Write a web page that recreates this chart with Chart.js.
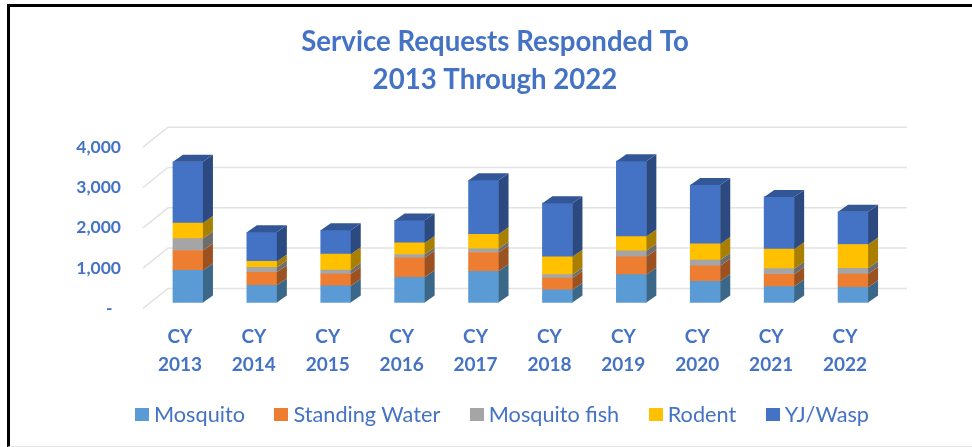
<!DOCTYPE html>
<html lang="en">
<head>
  <meta charset="UTF-8" />
  <title>Service Requests Responded To</title>
  <script src="https://cdn.jsdelivr.net/npm/chart.js"></script>
  <style>
    html, body {
      margin: 0;
      padding: 0;
      background: white;
      overflow: hidden;
    }

    .page {
      position: relative;
      width: 972px;
      height: 447px;
      font-family: Lato, sans-serif;
    }

    .frame {
      position: absolute;
      left: 7px;
      top: 4px;
      right: 0;
      bottom: 0;
      border-left: 3px solid black;
      border-top: 3px solid black;
      border-bottom: 1px solid #e6e6e6;
    }

    canvas {
      position: absolute;
      left: 0;
      top: 0;
    }

    .legend {
      position: absolute;
      left: 135px;
      top: 400px;
      display: flex;
      color: #4472c4;
      font-size: 21.7px;
      line-height: 28px;
    }

    .legend span {
      display: flex;
      align-items: center;
      margin-right: 29.5px;
      white-space: nowrap;
    }

    .legend i {
      width: 14px;
      height: 13px;
      margin-right: 5px;
    }
  </style>
</head>
<body>

<div class="page">
  <div class="frame"></div>
  <canvas id="chart" width="972" height="447"></canvas>
  <div class="legend" id="legend"></div>
</div>

<script>
  const categories = ["2013", "2014", "2015", "2016", "2017", "2018", "2019", "2020", "2021", "2022"];
  const seriesNames = ["Mosquito", "Standing Water", "Mosquito fish", "Rodent", "YJ/Wasp"];
  const mosquito = [796, 427, 410, 624, 772, 312, 690, 525, 394, 378];
  const standingWater = [493, 320, 296, 484, 468, 296, 443, 386, 304, 328];
  const mosquitoFish = [296, 123, 98, 82, 90, 82, 148, 140, 140, 140];
  const rodent = [386, 148, 394, 287, 361, 443, 353, 402, 484, 591];
  const yjWasp = [1519, 722, 591, 558, 1338, 1330, 1872, 1461, 1297, 813];
  const yTicks = [0, 1000, 2000, 3000, 4000];

  const blue = "#4472c4";
  const colors = ["#5b9bd5", "#ed7d31", "#a5a5a5", "#ffc000", "#4472c4"];
  const sideColors = ["#3b6789", "#9c5220", "#6d6d6d", "#a87f00", "#2c4a80"];
  const topColor = "#335696";
  const values = [mosquito, standingWater, mosquitoFish, rodent, yjWasp];

  // the floor sits a few pixels in front of the bars, as in a 3D excel chart
  const floorValue = 148;
  const barDepth = { x: 10, y: 7 };
  const wallDepth = { x: 25, y: 20 };

  // title is centred on the plot + right margin, not on the whole canvas
  const titleShift = {
    id: 'titleShift',
    afterLayout(chart) {
      chart.titleBlock.left += 100;
    }
  };

  const wallGrid = {
    id: 'wallGrid',
    beforeDatasetsDraw(chart) {
      const { ctx, chartArea } = chart;
      const scale = chart.scales.yLabels;
      const x0 = chartArea.left - 8;
      ctx.save();
      ctx.strokeStyle = "#e2e2e2";
      ctx.lineWidth = 1.5;
      yTicks.forEach(v => {
        const y = scale.getPixelForValue(v);
        ctx.beginPath();
        ctx.moveTo(x0, y);
        ctx.lineTo(x0 + wallDepth.x, y - wallDepth.y);
        ctx.lineTo(chartArea.right + 17, y - wallDepth.y);
        ctx.stroke();
      });
      ctx.restore();
    }
  };

  // side and top faces of each stacked box
  const barSides = {
    id: 'barSides',
    afterDatasetsDraw(chart) {
      const { ctx } = chart;
      ctx.save();
      chart.data.datasets.forEach((ds, i) => {
        chart.getDatasetMeta(i).data.forEach(bar => {
          const right = bar.x + bar.width / 2;
          const left = bar.x - bar.width / 2;
          ctx.fillStyle = sideColors[i];
          ctx.beginPath();
          ctx.moveTo(right, bar.y);
          ctx.lineTo(right + barDepth.x, bar.y - barDepth.y);
          ctx.lineTo(right + barDepth.x, bar.base - barDepth.y);
          ctx.lineTo(right, bar.base);
          ctx.closePath();
          ctx.fill();
          if (i === chart.data.datasets.length - 1) {
            ctx.fillStyle = topColor;
            ctx.beginPath();
            ctx.moveTo(left, bar.y);
            ctx.lineTo(left + barDepth.x, bar.y - barDepth.y);
            ctx.lineTo(right + barDepth.x, bar.y - barDepth.y);
            ctx.lineTo(right, bar.y);
            ctx.closePath();
            ctx.fill();
          }
        });
      });
      ctx.restore();
    }
  };

  new Chart(document.getElementById('chart'), {
    type: 'bar',
    data: {
      labels: categories.map(c => ["CY", c]),
      datasets: seriesNames.map((name, i) => ({
        label: name,
        data: values[i],
        backgroundColor: colors[i],
        yAxisID: 'y',
        barThickness: 30
      }))
    },
    options: {
      responsive: false,
      animation: false,
      layout: { padding: { left: 0, right: 82, top: 12, bottom: 61.3 } },
      plugins: {
        legend: { display: false },
        tooltip: { enabled: false },
        title: {
          display: true,
          text: ["Service Requests Responded To", "2013 Through 2022"],
          color: blue,
          font: { family: 'Lato', size: 27.6, weight: 'bold', lineHeight: 1.38 },
          padding: { top: 11, bottom: 48 }
        }
      },
      scales: {
        x: {
          stacked: true,
          grid: { display: false },
          border: { display: false },
          ticks: {
            color: blue,
            font: { family: 'Lato', size: 19, weight: 'bold', lineHeight: 1.47 },
            maxRotation: 0,
            autoSkip: false,
            padding: 6.7,
            labelOffset: -8
          }
        },
        y: {
          stacked: true,
          display: false,
          min: -floorValue,
          max: 4000 - floorValue
        },
        yLabels: {
          position: 'left',
          min: 0,
          max: 4000,
          afterBuildTicks(axis) {
            axis.ticks = yTicks.map(v => ({ value: v }));
          },
          afterFit(axis) {
            axis.width = 151;
          },
          grid: { display: false },
          border: { display: false },
          ticks: {
            color: blue,
            font: { family: 'Lato', size: 17.5, weight: 'bold' },
            padding: 22,
            callback: v => v === 0 ? "-  " : v.toLocaleString('en-US')
          }
        }
      }
    },
    plugins: [titleShift, wallGrid, barSides]
  });

  // legend row under the chart
  const legend = document.getElementById('legend');
  seriesNames.forEach((name, i) => {
    const item = document.createElement('span');
    item.innerHTML = `<i style="background:${colors[i]}"></i>${name}`;
    legend.appendChild(item);
  });
</script>
</body>
</html>
